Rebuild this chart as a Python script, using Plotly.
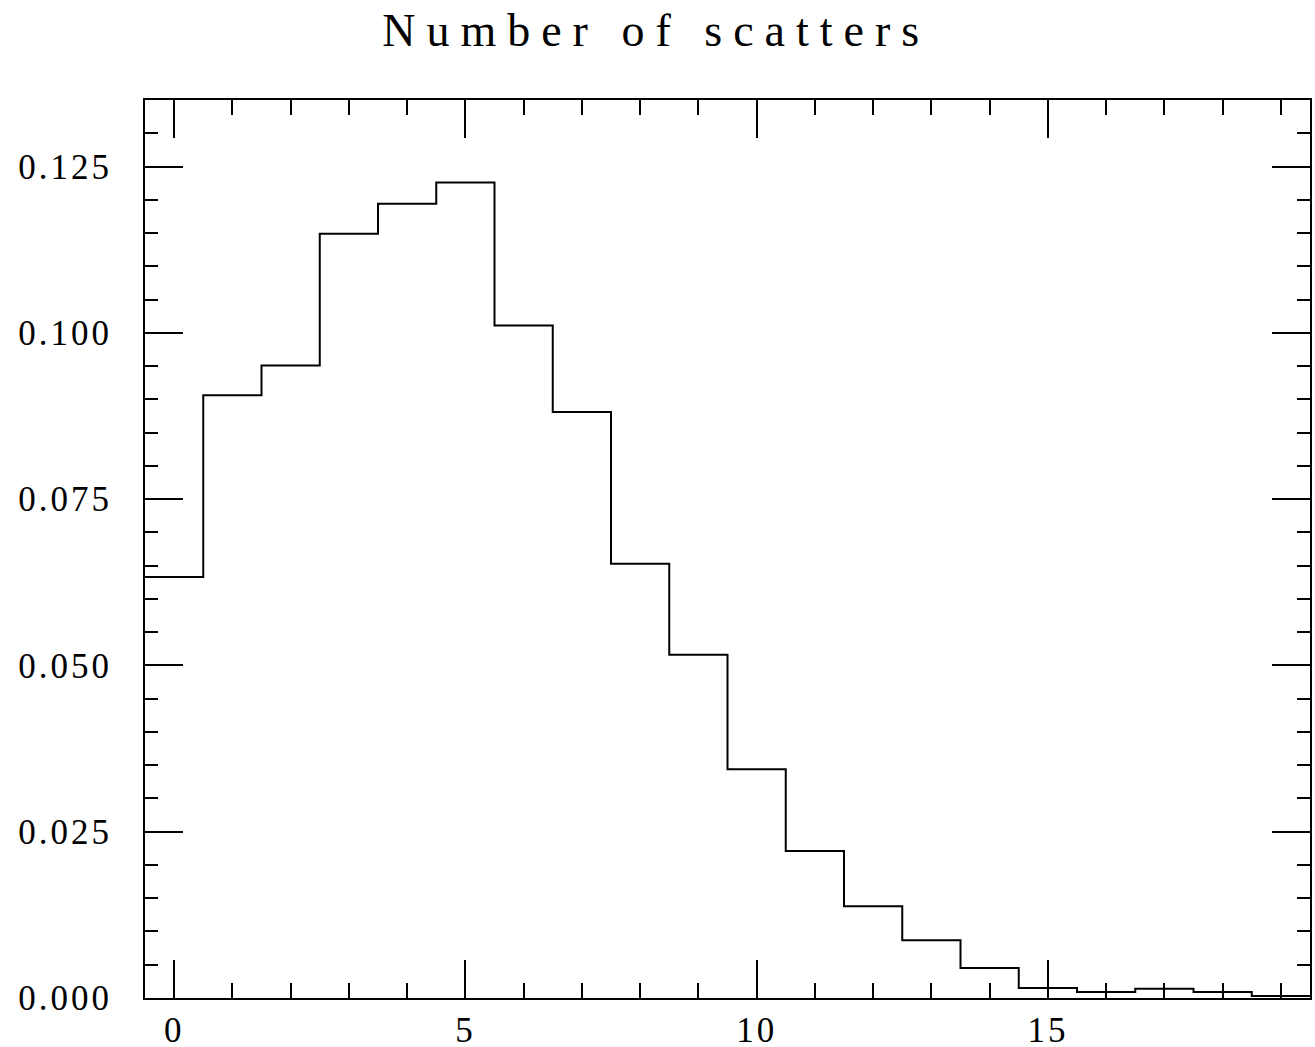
import numpy as np
import plotly.graph_objects as go

title = "Number of scatters"
bin_centers = list(range(20))
fractions = [0.0633, 0.0906, 0.0951, 0.1149, 0.1194, 0.1226, 0.1011, 0.0881,
             0.0653, 0.0516, 0.0344, 0.0221, 0.0138, 0.0087, 0.0045, 0.0015,
             0.0009, 0.0014, 0.0009, 0.0003]
x_tickvals = [0, 5, 10, 15]
y_tickvals = [0.0, 0.025, 0.05, 0.075, 0.1, 0.125]
y_ticktext = ["0.000", "0.025", "0.050", "0.075", "0.100", "0.125"]

c = np.array(bin_centers, dtype=float)
edges = np.append(c - 0.5, c[-1] + 0.5)
vals = np.append(fractions, fractions[-1])

fig = go.Figure()
fig.add_trace(go.Scatter(x=edges, y=vals, mode="lines", line=dict(shape="hv", color="black", width=2),
                         showlegend=False, hoverinfo="skip"))

def spaced(t, px):
    return '<span style="letter-spacing:%dpx">%s</span>' % (px, t)

tickfont = dict(family="Liberation Serif", size=35, color="black")
fig.update_layout(
    width=1315, height=1047,
    margin=dict(l=145, r=5, t=100, b=49),
    paper_bgcolor="white", plot_bgcolor="white",
    title=dict(text=spaced(title, 11), x=0.499, xref="container", xanchor="center",
               y=1 - 30 / 1047, yref="container", yanchor="middle",
               font=dict(family="Liberation Serif", size=46, color="black")),
    xaxis=dict(range=[-0.5, 19.5], showgrid=False, zeroline=False, automargin=False,
               showline=True, linecolor="black", linewidth=2, mirror="allticks",
               ticks="inside", ticklen=38, tickwidth=2, tickcolor="black",
               tickvals=x_tickvals, ticktext=[spaced(str(v), 3) for v in x_tickvals],
               tickfont=tickfont, ticklabelstandoff=0,
               minor=dict(dtick=1, tick0=0, ticks="inside", ticklen=15, tickwidth=2, tickcolor="black", showgrid=False)),
    yaxis=dict(range=[0, 0.135], showgrid=False, zeroline=False, automargin=False,
               showline=True, linecolor="black", linewidth=2, mirror="allticks",
               ticks="inside", ticklen=38, tickwidth=2, tickcolor="black",
               tickvals=y_tickvals, ticktext=[spaced(t, 3) for t in y_ticktext],
               tickfont=tickfont, ticklabelstandoff=24,
               minor=dict(dtick=0.005, tick0=0, ticks="inside", ticklen=13, tickwidth=2, tickcolor="black", showgrid=False)),
)
fig.write_html("out.html")
